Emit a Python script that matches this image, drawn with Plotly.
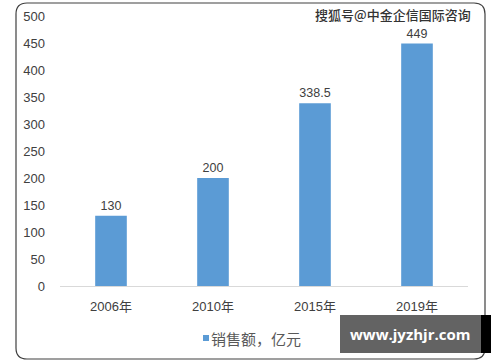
import plotly.graph_objects as go

categories = ["2006年", "2010年", "2015年", "2019年"]
values = [130, 200, 338.5, 449]
value_labels = ["130", "200", "338.5", "449"]
series_name = "销售额，亿元"
y_ticks = [0, 50, 100, 150, 200, 250, 300, 350, 400, 450, 500]

W, H = 500, 362
ML, MR, MT, MB = 60, 32, 16, 76
PW, PH = W - ML - MR, H - MT - MB
BAR_COLOR = "#5B9BD5"

def px(x):
    return (x - ML) / PW

def py(y):
    return (H - MB - y) / PH

def rounded_rect(x0, y0, x1, y1, r):
    pts = [
        f"M {px(x0 + r)},{py(y0)}",
        f"L {px(x1 - r)},{py(y0)}",
        f"Q {px(x1)},{py(y0)} {px(x1)},{py(y0 + r)}",
        f"L {px(x1)},{py(y1 - r)}",
        f"Q {px(x1)},{py(y1)} {px(x1 - r)},{py(y1)}",
        f"L {px(x0 + r)},{py(y1)}",
        f"Q {px(x0)},{py(y1)} {px(x0)},{py(y1 - r)}",
        f"L {px(x0)},{py(y0 + r)}",
        f"Q {px(x0)},{py(y0)} {px(x0 + r)},{py(y0)}",
        "Z",
    ]
    return " ".join(pts)

FONT = "Liberation Sans, Noto Sans CJK SC, sans-serif"

fig = go.Figure()
fig.add_trace(go.Bar(
    x=categories, y=values, name=series_name,
    marker=dict(color=BAR_COLOR, line=dict(width=0)),
    text=value_labels, textposition="outside",
    textfont=dict(size=12.5, color="#404040"),
    cliponaxis=False, showlegend=False,
))

fig.update_layout(
    width=W, height=H,
    margin=dict(l=ML, r=MR, t=MT, b=MB, autoexpand=False),
    paper_bgcolor="white", plot_bgcolor="white",
    font=dict(family=FONT, size=12, color="#595959"),
    bargap=0.69,
    showlegend=False,
    xaxis=dict(showgrid=False, showline=True, linecolor="#D9D9D9", linewidth=1,
               ticks="", tickfont=dict(size=13, color="#404040"), ticklabelstandoff=8),
    yaxis=dict(range=[0, 500], tickvals=y_ticks, showgrid=False, zeroline=False,
               showline=False, ticks="", tickfont=dict(size=13, color="#404040"),
               ticklabelstandoff=14),
)

fig.add_shape(type="path", xref="paper", yref="paper",
              path=rounded_rect(16, 3, 485, 359, 11),
              line=dict(color="#404040", width=1.2), fillcolor="rgba(0,0,0,0)", layer="below")

# legend (manual, tight spacing as in reference)
fig.add_shape(type="rect", xref="paper", yref="paper",
              x0=px(203), x1=px(209), y0=py(335), y1=py(341),
              fillcolor=BAR_COLOR, line=dict(width=0))
fig.add_annotation(xref="paper", yref="paper", x=px(209), y=py(338), xanchor="left", yanchor="middle",
                   text=series_name, showarrow=False,
                   font=dict(size=15, color="#595959", family="Noto Sans CJK SC"))

# watermark top-right
fig.add_annotation(xref="paper", yref="paper", x=px(473), y=py(14), xanchor="right", yanchor="middle",
                   text="搜狐号@中金企信国际咨询", showarrow=False,
                   font=dict(size=13, color="#333333", family="Noto Sans CJK SC", weight=500))

# bottom-right watermark box
fig.add_shape(type="rect", xref="paper", yref="paper",
              x0=px(481), x1=px(491), y0=py(315), y1=py(353),
              fillcolor="#000000", line=dict(width=0))
fig.add_shape(type="rect", xref="paper", yref="paper",
              x0=px(340), x1=px(481), y0=py(315), y1=py(353),
              fillcolor="#636363", line=dict(width=0))
fig.add_annotation(xref="paper", yref="paper", x=px(410), y=py(334), xanchor="center", yanchor="middle",
                   text="<b>www.jyzhjr.com</b>", showarrow=False,
                   font=dict(size=15, color="white", family="Open Sans, sans-serif"))

fig.write_html("out.html", config={"displayModeBar": False},
               post_script="document.body.style.margin='0';document.body.style.overflow='hidden';")
